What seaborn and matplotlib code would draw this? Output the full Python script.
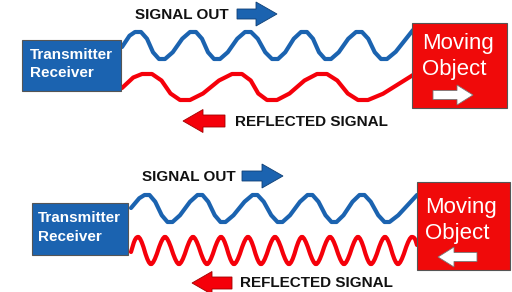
import matplotlib
matplotlib.use("Agg")
import matplotlib.pyplot as plt
import matplotlib.patches as mpatches
import seaborn as sns
import pandas as pd

sns.set_theme(style="white")
plt.rcParams["font.family"] = ["Liberation Sans", "DejaVu Sans"]

BLUE = "#1B63B0"
RED = "#F5000A"
BOX_RED = "#F00A0A"

# wave shapes (pixel x of crests / troughs, y levels)
top_blue_start = (122, 47)
top_blue_peaks = [138, 193, 248, 304, 359]
top_blue_troughs = [162, 217, 275, 328, 384]
top_blue_levels = (32, 59)
top_blue_end = (413, 30)

top_red_start = (122, 88)
top_red_peaks = [147, 237, 322]
top_red_troughs = [185, 272, 363]
top_red_levels = (74, 100)
top_red_end = (413, 75)

bot_blue_start = (131, 208)
bot_blue_peaks = [147, 200, 255, 310, 362]
bot_blue_troughs = [170, 223, 280, 334, 387]
bot_blue_levels = (195, 222)
bot_blue_end = (417, 195)

bot_red_start = (131, 252)
bot_red_peaks = [138, 165, 193, 221, 248, 275, 302, 330, 358, 385, 412]
bot_red_troughs = [151, 179, 207, 234, 261, 289, 316, 344, 371, 398]
bot_red_levels = (237, 264)
bot_red_end = (417, 245)


def chaikin(xs, ys, rounds):
    # cut the corners so the crests come out rounded as in the picture
    for _ in range(rounds):
        nx, ny = [xs[0]], [ys[0]]
        for i in range(len(xs) - 1):
            nx += [0.75 * xs[i] + 0.25 * xs[i + 1], 0.25 * xs[i] + 0.75 * xs[i + 1]]
            ny += [0.75 * ys[i] + 0.25 * ys[i + 1], 0.25 * ys[i] + 0.75 * ys[i + 1]]
        nx.append(xs[-1])
        ny.append(ys[-1])
        xs, ys = nx, ny
    return xs, ys


def wave_frame(start, peaks, troughs, levels, half, end, rounds=1):
    pts = [(x, levels[0]) for x in peaks] + [(x, levels[1]) for x in troughs]
    pts.sort()
    xs, ys = [start[0]], [start[1]]
    for x, y in pts:
        xs += [x - half, x + half]
        ys += [y, y]
    xs.append(end[0])
    ys.append(end[1])
    xs, ys = chaikin(xs, ys, rounds)
    return pd.DataFrame({"x": xs, "y": ys})


fig = plt.figure(figsize=(5.12, 2.92), dpi=100)
ax = fig.add_axes([0, 0, 1, 1])
ax.set_xlim(0, 512)
ax.set_ylim(292, 0)
ax.axis("off")

waves = [
    (wave_frame(top_blue_start, top_blue_peaks, top_blue_troughs, top_blue_levels, 6, top_blue_end), BLUE),
    (wave_frame(top_red_start, top_red_peaks, top_red_troughs, top_red_levels, 10, top_red_end), RED),
    (wave_frame(bot_blue_start, bot_blue_peaks, bot_blue_troughs, bot_blue_levels, 5, bot_blue_end), BLUE),
    (wave_frame(bot_red_start, bot_red_peaks, bot_red_troughs, bot_red_levels, 2.5, bot_red_end, 2), RED),
]
for df, col in waves:
    sns.lineplot(data=df, x="x", y="y", sort=False, estimator=None, ax=ax,
                 color=col, linewidth=3.0, solid_joinstyle="round")

# boxes
def box(x0, y0, x1, y1, fc):
    ax.add_patch(mpatches.Rectangle((x0, y0), x1 - x0, y1 - y0, facecolor=fc,
                                    edgecolor="#555555", linewidth=0.8, zorder=5))

box(22, 40, 121, 91, BLUE)
box(32, 203, 128, 255, BLUE)
box(412, 23, 507, 108, BOX_RED)
box(417, 182, 510, 270, BOX_RED)

for x, y1, y2 in [(30, 55, 73), (38, 218, 237)]:
    ax.text(x, y1, "Transmitter", color="white", fontsize=11, fontweight="bold",
            ha="left", va="center", zorder=6)
    ax.text(x, y2, "Receiver", color="white", fontsize=11, fontweight="bold",
            ha="left", va="center", zorder=6)

for x, y1, y2 in [(422, 43, 70), (425, 207, 233)]:
    ax.text(x, y1, "Moving", color="white", fontsize=16, ha="left", va="center", zorder=6)
    ax.text(x, y2, "Object", color="white", fontsize=16, ha="left", va="center", zorder=6)


def arrow(x, y, dx, fc, ec, width, hw, hl):
    ax.add_patch(mpatches.FancyArrow(x, y, dx, 0, width=width, head_width=hw,
                                     head_length=hl, length_includes_head=True,
                                     facecolor=fc, edgecolor=ec, linewidth=0.6, zorder=7))

arrow(237, 14, 40, BLUE, "#0E3F75", 10, 24, 21)
arrow(242, 176, 41, BLUE, "#0E3F75", 10, 24, 21)
arrow(225, 121, -42, RED, "#A00000", 12, 23, 20)
arrow(232, 283, -40, RED, "#A00000", 12, 23, 20)
arrow(433, 95, 40, "white", "#777777", 9, 20, 16)
arrow(477, 257, -39, "white", "#777777", 9, 20, 16)

for x, y in [(135, 15), (142, 177)]:
    ax.text(x, y, "SIGNAL OUT", fontsize=11, fontweight="bold", color="#111111",
            ha="left", va="center")
for x, y in [(235, 122), (240, 283)]:
    ax.text(x, y, "REFLECTED SIGNAL", fontsize=11, fontweight="bold", color="#111111",
            ha="left", va="center")

fig.savefig("out.png", dpi=100)
plt.close(fig)
